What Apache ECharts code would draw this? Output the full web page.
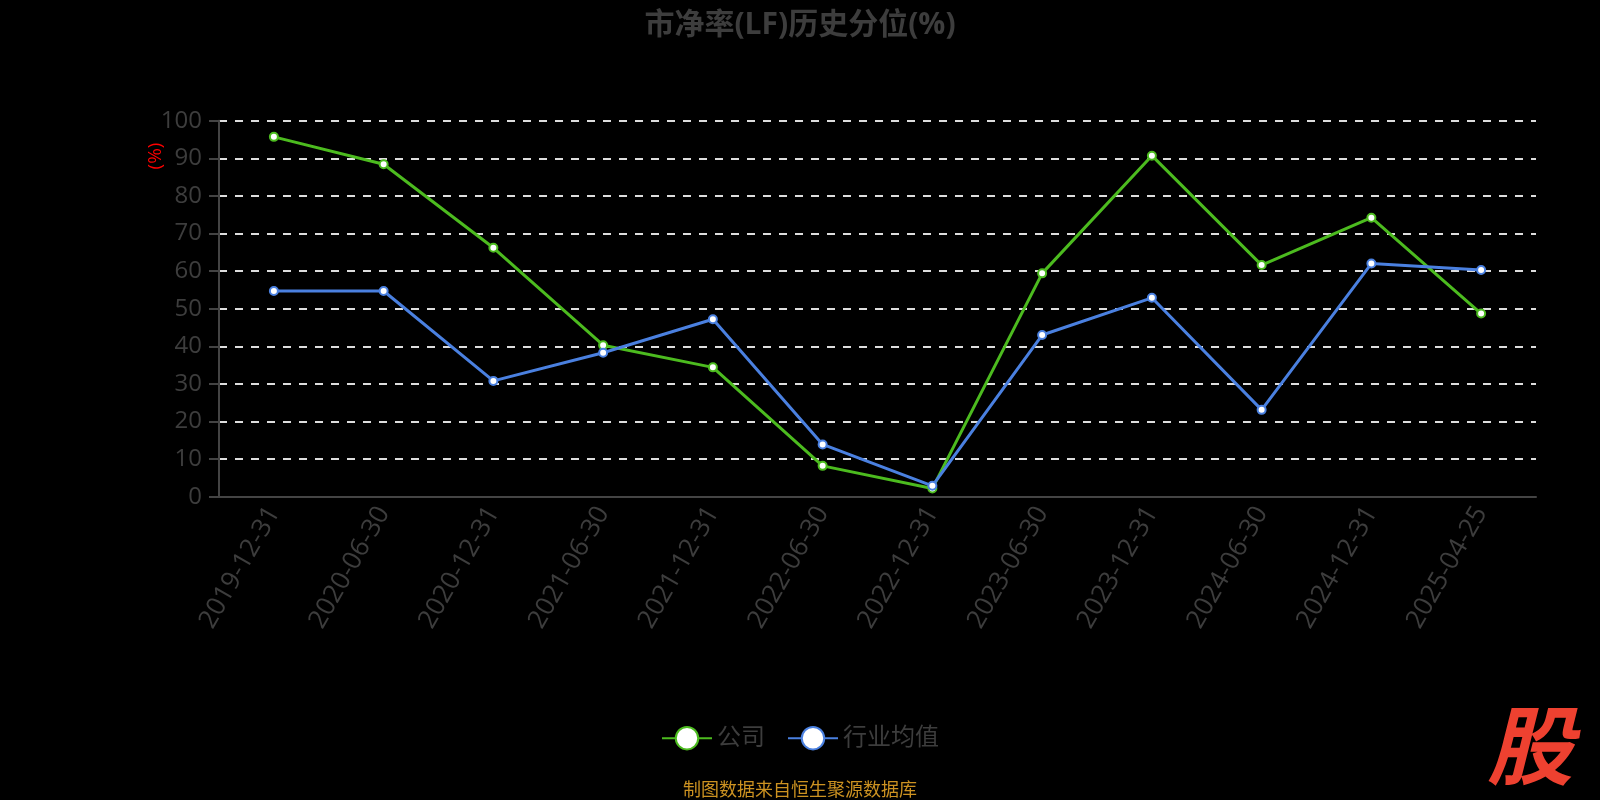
<!DOCTYPE html>
<html>
<head>
<meta charset="utf-8">
<script src="https://cdn.jsdelivr.net/npm/echarts@6/dist/echarts.min.js"></script>
<style>html,body{margin:0;padding:0;background:#000;}#c{width:1600px;height:800px;}</style>
</head>
<body>
<div id="c"></div>
<script>
const categories = ['2019-12-31','2020-06-30','2020-12-31','2021-06-30','2021-12-31','2022-06-30','2022-12-31','2023-06-30','2023-12-31','2024-06-30','2024-12-31','2025-04-25'];
const companyValues = [95.7, 88.4, 66.2, 40.3, 34.4, 8.2, 2.2, 59.4, 90.7, 61.6, 74.2, 48.7];
const industryValues = [54.7, 54.7, 30.8, 38.3, 47.2, 13.9, 2.9, 43.0, 52.9, 23.1, 62.0, 60.3];
const seriesNames = ['公司', '行业均值'];
const titleText = '市净率(LF)历史分位(%)';
const unitText = '(%)';
const sourceText = '制图数据来自恒生聚源数据库';
const logoText = '股';

const FONT = "'Open Sans', 'Noto Sans CJK SC', sans-serif";
const GRAY = '#3d3d3d';
const chart = echarts.init(document.getElementById('c'), null, {renderer: 'canvas'});

function mkSeries(name, data, color) {
  return {
    name: name, type: 'line', data: data,
    symbol: 'circle', symbolSize: 8,
    lineStyle: {color: color, width: 3},
    itemStyle: {color: '#fff', borderColor: color, borderWidth: 2},
    emphasis: {disabled: true}
  };
}

chart.setOption({
  backgroundColor: '#000',
  animation: false,
  textStyle: {fontFamily: FONT},
  title: {
    text: titleText, left: 'center', top: 5,
    textStyle: {color: GRAY, fontSize: 30, fontWeight: 'bold', fontFamily: FONT}
  },
  legend: {
    data: seriesNames, left: 'center', top: 721,
    itemWidth: 50, itemHeight: 28, itemGap: 22,
    lineStyle: {width: 2},
    textStyle: {color: GRAY, fontSize: 24, fontFamily: FONT}
  },
  grid: {left: 219, right: 64, top: 120.7, bottom: 303.3, containLabel: false},
  xAxis: {
    type: 'category', data: categories, boundaryGap: true,
    axisLine: {lineStyle: {color: '#444', width: 2}},
    axisTick: {length: 9, lineStyle: {color: '#444', width: 2}},
    axisLabel: {rotate: 60, color: GRAY, fontSize: 26, margin: 12, interval: 0, fontFamily: FONT},
    splitLine: {show: false}
  },
  yAxis: {
    type: 'value', min: 0, max: 100, interval: 10,
    axisLine: {show: true, lineStyle: {color: '#444', width: 2}},
    axisTick: {show: true, length: 10, lineStyle: {color: '#444', width: 2}},
    axisLabel: {color: GRAY, fontSize: 24, margin: 17, fontFamily: FONT},
    splitLine: {show: true, lineStyle: {color: '#ddd', width: 2, type: [8, 8]}}
  },
  graphic: [
    {type: 'text', x: 156, y: 156, rotation: Math.PI / 2,
     style: {text: unitText, fill: '#ff0000', fontSize: 19, fontFamily: FONT, textAlign: 'center', textVerticalAlign: 'middle'}},
    {type: 'text', x: 800, y: 789,
     style: {text: sourceText, fill: '#cc9221', fontSize: 18, fontFamily: "'Noto Sans CJK SC', sans-serif", textAlign: 'center', textVerticalAlign: 'middle'}},
    {type: 'text', x: 1530, y: 745,
     style: {text: logoText, fill: '#ee4130', fontSize: 86, fontWeight: 'bold', fontStyle: 'italic', fontFamily: "'Noto Sans CJK SC', sans-serif", textAlign: 'center', textVerticalAlign: 'middle'}}
  ],
  series: [
    mkSeries(seriesNames[0], companyValues, '#4cbb1f'),
    mkSeries(seriesNames[1], industryValues, '#4a80e0')
  ]
});
</script>
</body>
</html>
